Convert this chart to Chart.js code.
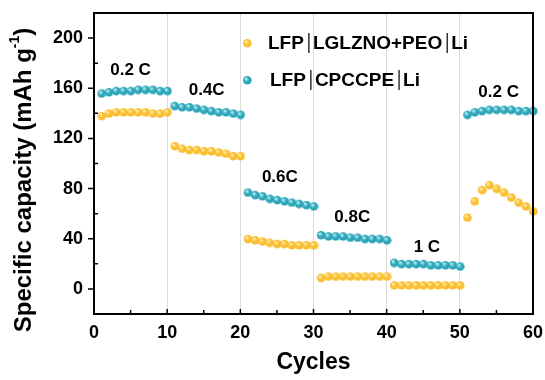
<!DOCTYPE html>
<html>
<head>
<meta charset="utf-8">
<script src="https://cdn.jsdelivr.net/npm/chart.js@4.4.0/dist/chart.umd.min.js"></script>
<style>
  html, body { margin: 0; padding: 0; background: #fff; }
</style>
</head>
<body>
<canvas id="rate-chart" width="545" height="380"></canvas>
<script>
const cycles = [1, 2, 3, 4, 5, 6, 7, 8, 9, 10,
    11, 12, 13, 14, 15, 16, 17, 18, 19, 20,
    21, 22, 23, 24, 25, 26, 27, 28, 29, 30,
    31, 32, 33, 34, 35, 36, 37, 38, 39, 40,
    41, 42, 43, 44, 45, 46, 47, 48, 49, 50,
    51, 52, 53, 54, 55, 56, 57, 58, 59, 60];

const peoCapacity = [138, 140, 141, 141, 141, 141, 141, 140, 140, 141,
    114, 112, 111, 111, 110, 110, 109, 108, 106, 106,
    40, 39, 38, 37, 36, 36, 35, 35, 35, 35,
    9, 10, 10, 10, 10, 10, 10, 10, 10, 10,
    3, 3, 3, 3, 3, 3, 3, 3, 3, 3,
    57, 70, 79, 83, 80, 77, 73, 69, 66, 62];

const cpccpeCapacity = [156, 157, 158, 158, 158, 159, 159, 159, 158, 158,
    146, 145, 145, 144, 143, 142, 141, 141, 140, 139,
    77, 75, 74, 72, 71, 70, 69, 68, 67, 66,
    43, 42, 42, 42, 41, 41, 40, 40, 40, 39,
    21, 20, 20, 20, 20, 19, 19, 19, 19, 18,
    139, 141, 142, 143, 143, 143, 143, 142, 142, 142];

const seriesNames = [['LFP', 'LGLZNO+PEO', 'Li'], ['LFP', 'CPCCPE', 'Li']];
const xTickValues = [0, 10, 20, 30, 40, 50, 60];
const yTickValues = [0, 40, 80, 120, 160, 200];
const rateLabels = ['0.2 C', '0.4C', '0.6C', '0.8C', '1 C', '0.2 C'];
const rateLabelX = [5, 15.4, 25.4, 35.3, 45.5, 55.3];
const rateLabelY = [174, 158, 89, 57, 33, 157];

const FONT = '"Liberation Sans", Arial, sans-serif';
const YELLOW = '#FABD2C';
const CYAN = '#2AA4B7';

function makeBall(base, light, r) {
    const c = document.createElement('canvas');
    c.width = c.height = r * 2 + 2;
    const g = c.getContext('2d');
    const cx = r + 1;
    const grad = g.createRadialGradient(cx - r * 0.35, cx - r * 0.4, r * 0.1, cx, cx, r);
    grad.addColorStop(0, light);
    grad.addColorStop(0.55, base);
    grad.addColorStop(1, base);
    g.fillStyle = grad;
    g.beginPath();
    g.arc(cx, cx, r, 0, Math.PI * 2);
    g.fill();
    return c;
}

const yellowBall = makeBall(YELLOW, '#FFEFB0', 4.3);
const cyanBall = makeBall(CYAN, '#B8F0F5', 4.3);

// kill the automatic label overflow padding so the plot box lands where the reference has it
const noPad = s => { s.paddingTop = 0; s.paddingBottom = 0; s.paddingLeft = 0; s.paddingRight = 0; };

const decorPlugin = {
    id: 'decor',
    afterDraw(chart) {
        const ctx = chart.ctx;
        const a = chart.chartArea;
        const xs = chart.scales.x;
        const ys = chart.scales.y;
        ctx.save();

        // frame
        ctx.strokeStyle = '#000';
        ctx.lineWidth = 2;
        ctx.strokeRect(a.left, a.top, a.right - a.left, a.bottom - a.top);

        // ticks
        ctx.lineWidth = 1.5;
        ctx.beginPath();
        for (let v = 5; v < 60; v += 5) {
            const px = xs.getPixelForValue(v);
            ctx.moveTo(px, a.bottom);
            ctx.lineTo(px, a.bottom - (v % 10 === 0 ? 5 : 4));
        }
        for (let v = 0; v <= 200; v += 20) {
            const py = ys.getPixelForValue(v);
            if (v % 40 === 0) {
                ctx.moveTo(a.left, py);
                ctx.lineTo(a.left - 6, py);
            } else {
                ctx.moveTo(a.left, py);
                ctx.lineTo(a.left + 4, py);
            }
        }
        ctx.stroke();

        // rate labels
        ctx.fillStyle = '#000';
        ctx.font = 'bold 17px ' + FONT;
        ctx.textAlign = 'center';
        ctx.textBaseline = 'middle';
        rateLabels.forEach((t, i) => {
            ctx.fillText(t, xs.getPixelForValue(rateLabelX[i]), ys.getPixelForValue(rateLabelY[i]));
        });

        // legend
        const balls = [yellowBall, cyanBall];
        const rowY = [43, 80];
        const rowX = [268, 270];
        ctx.font = 'bold 19px ' + FONT;
        ctx.textAlign = 'left';
        rowY.forEach((y, i) => {
            ctx.drawImage(balls[i], 247 - balls[i].width / 2, y - balls[i].height / 2);
            let x = rowX[i];
            seriesNames[i].forEach((part, j) => {
                ctx.fillText(part, x, y + 1);
                x += ctx.measureText(part).width;
                if (j < seriesNames[i].length - 1) {
                    x += 5;
                    ctx.lineWidth = 1.2;
                    ctx.beginPath();
                    ctx.moveTo(x, y - 10);
                    ctx.lineTo(x, y + 10);
                    ctx.stroke();
                    x += 4;
                }
            });
        });

        // y title with superscript
        ctx.translate(24, 180);
        ctx.rotate(-Math.PI / 2);
        const main = 'Specific capacity (mAh g';
        ctx.font = 'bold 24px ' + FONT;
        const w1 = ctx.measureText(main).width;
        ctx.font = 'bold 14px ' + FONT;
        const w2 = ctx.measureText('-1').width;
        ctx.font = 'bold 24px ' + FONT;
        const w3 = ctx.measureText(')').width;
        let sx = -(w1 + w2 + w3) / 2;
        ctx.textBaseline = 'middle';
        ctx.fillText(main, sx, 0);
        sx += w1;
        ctx.font = 'bold 14px ' + FONT;
        ctx.fillText('-1', sx, -9);
        sx += w2;
        ctx.font = 'bold 24px ' + FONT;
        ctx.fillText(')', sx, 0);

        ctx.restore();
    }
};

const ctx = document.getElementById('rate-chart').getContext('2d');

new Chart(ctx, {
    type: 'line',
    data: {
        datasets: [
            {
                label: seriesNames[0].join('|'),
                data: cycles.map((c, i) => ({ x: c, y: peoCapacity[i] })),
                showLine: false,
                pointStyle: yellowBall,
                clip: false
            },
            {
                label: seriesNames[1].join('|'),
                data: cycles.map((c, i) => ({ x: c, y: cpccpeCapacity[i] })),
                showLine: false,
                pointStyle: cyanBall,
                clip: false
            }
        ]
    },
    options: {
        responsive: false,
        devicePixelRatio: 1,
        animation: false,
        layout: { padding: { top: 13, right: 12, left: 0, bottom: 0 } },
        plugins: {
            legend: { display: false },
            tooltip: { enabled: false }
        },
        scales: {
            x: {
                type: 'linear',
                min: 0,
                max: 60,
                afterBuildTicks: s => { s.ticks = xTickValues.map(v => ({ value: v })); },
                afterFit: s => { s.height = 66; noPad(s); },
                ticks: {
                    color: '#000',
                    font: { family: FONT, size: 18, weight: 'bold' },
                    padding: 8
                },
                grid: {
                    drawTicks: false,
                    color: c => (c.tick && c.tick.value > 0 && c.tick.value < 60) ? '#DCDCDC' : 'rgba(0,0,0,0)',
                    lineWidth: 1
                },
                border: { display: false },
                title: {
                    display: true,
                    text: 'Cycles',
                    color: '#000',
                    font: { family: FONT, size: 23, weight: 'bold' },
                    padding: { top: 8 }
                }
            },
            y: {
                min: -20,
                max: 220,
                afterBuildTicks: s => { s.ticks = yTickValues.map(v => ({ value: v })); },
                afterFit: s => { s.width = 94; noPad(s); },
                ticks: {
                    color: '#000',
                    font: { family: FONT, size: 18, weight: 'bold' },
                    padding: 11
                },
                grid: { display: false, drawTicks: false },
                border: { display: false }
            }
        }
    },
    plugins: [decorPlugin]
});
</script>
</body>
</html>
